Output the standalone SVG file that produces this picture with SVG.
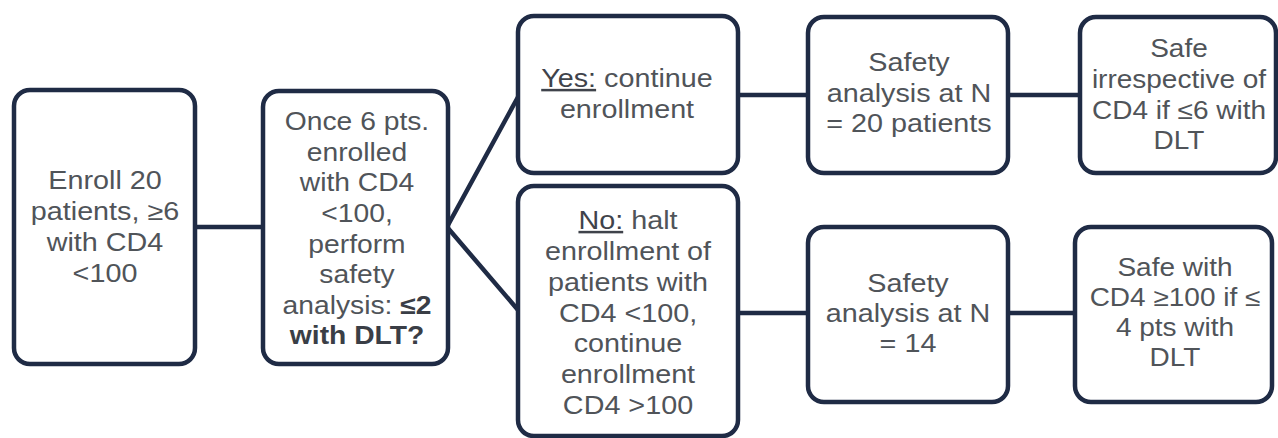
<svg xmlns="http://www.w3.org/2000/svg" width="1278" height="438" viewBox="0 0 1278 438">
<style>
.box{fill:#fff;stroke:#1f2b45;stroke-width:4.5}
.conn{stroke:#1f2b45;stroke-width:4.5;fill:none;stroke-linecap:round}
.t{font-family:"Liberation Sans",Arial,sans-serif;font-size:25px;fill:#505459;text-anchor:middle}
.b{font-weight:bold;fill:#3a3e46}
.u{text-decoration:underline;fill:#3f434b}
</style>
<rect width="1278" height="438" fill="#fff"/>
<g id="connectors">
<line class="conn" x1="195" y1="227" x2="262" y2="227"/>
<polyline class="conn" points="518,97 447,227 518,310"/>
<line class="conn" x1="738" y1="95" x2="808" y2="95"/>
<line class="conn" x1="1008" y1="95" x2="1080" y2="95"/>
<line class="conn" x1="738" y1="313" x2="808" y2="313"/>
<line class="conn" x1="1008" y1="313" x2="1075" y2="313"/>
</g>
<g id="n1">
<rect class="box" x="14" y="90" width="181" height="274" rx="16"/>
<text class="t" transform="matrix(1.15 0 0 1 105 0)"><tspan x="0" y="189">Enroll 20</tspan><tspan x="0" y="220">patients, ≥6</tspan><tspan x="0" y="251">with CD4</tspan><tspan x="0" y="282">&lt;100</tspan></text>
</g>
<g id="n2">
<rect class="box" x="263" y="91" width="185" height="273" rx="16"/>
<text class="t" transform="matrix(1.13 0 0 1 357 0)"><tspan x="0" y="130">Once 6 pts.</tspan><tspan x="0" y="161">enrolled</tspan><tspan x="0" y="191">with CD4</tspan><tspan x="0" y="222">&lt;100,</tspan><tspan x="0" y="253">perform</tspan><tspan x="0" y="283">safety</tspan><tspan x="0" y="314">analysis: <tspan class="b">≤2</tspan></tspan><tspan x="0" y="344" class="b">with DLT?</tspan></text>
</g>
<g id="n3">
<rect class="box" x="518" y="16" width="220" height="157" rx="16"/>
<text class="t" transform="matrix(1.15 0 0 1 627 0)"><tspan x="0" y="87"><tspan class="u">Yes:</tspan> continue</tspan><tspan x="0" y="118">enrollment</tspan></text>
</g>
<g id="n4">
<rect class="box" x="518" y="186" width="220" height="250" rx="16"/>
<text class="t" transform="matrix(1.15 0 0 1 628 0)"><tspan x="0" y="229"><tspan class="u">No:</tspan> halt</tspan><tspan x="0" y="260">enrollment of</tspan><tspan x="0" y="291">patients with</tspan><tspan x="0" y="322">CD4 &lt;100,</tspan><tspan x="0" y="352">continue</tspan><tspan x="0" y="383">enrollment</tspan><tspan x="0" y="414">CD4 &gt;100</tspan></text>
</g>
<g id="n5">
<rect class="box" x="808" y="17" width="200" height="156" rx="16"/>
<text class="t" transform="matrix(1.15 0 0 1 909 0)"><tspan x="0" y="71">Safety</tspan><tspan x="0" y="102">analysis at N</tspan><tspan x="0" y="132">= 20 patients</tspan></text>
</g>
<g id="n6">
<rect class="box" x="1080" y="17" width="196" height="156" rx="16"/>
<text class="t" transform="matrix(1.12 0 0 1 1179 0)"><tspan x="0" y="57">Safe</tspan><tspan x="0" y="88">irrespective of</tspan><tspan x="0" y="119">CD4 if ≤6 with</tspan><tspan x="0" y="149">DLT</tspan></text>
</g>
<g id="n7">
<rect class="box" x="808" y="227" width="200" height="175" rx="16"/>
<text class="t" transform="matrix(1.15 0 0 1 908 0)"><tspan x="0" y="292">Safety</tspan><tspan x="0" y="322">analysis at N</tspan><tspan x="0" y="352">= 14</tspan></text>
</g>
<g id="n8">
<rect class="box" x="1075" y="227" width="197" height="175" rx="16"/>
<text class="t" transform="matrix(1.12 0 0 1 1175 0)"><tspan x="0" y="276">Safe with</tspan><tspan x="0" y="306">CD4 ≥100 if ≤</tspan><tspan x="0" y="336">4 pts with</tspan><tspan x="0" y="366">DLT</tspan></text>
</g>
</svg>
